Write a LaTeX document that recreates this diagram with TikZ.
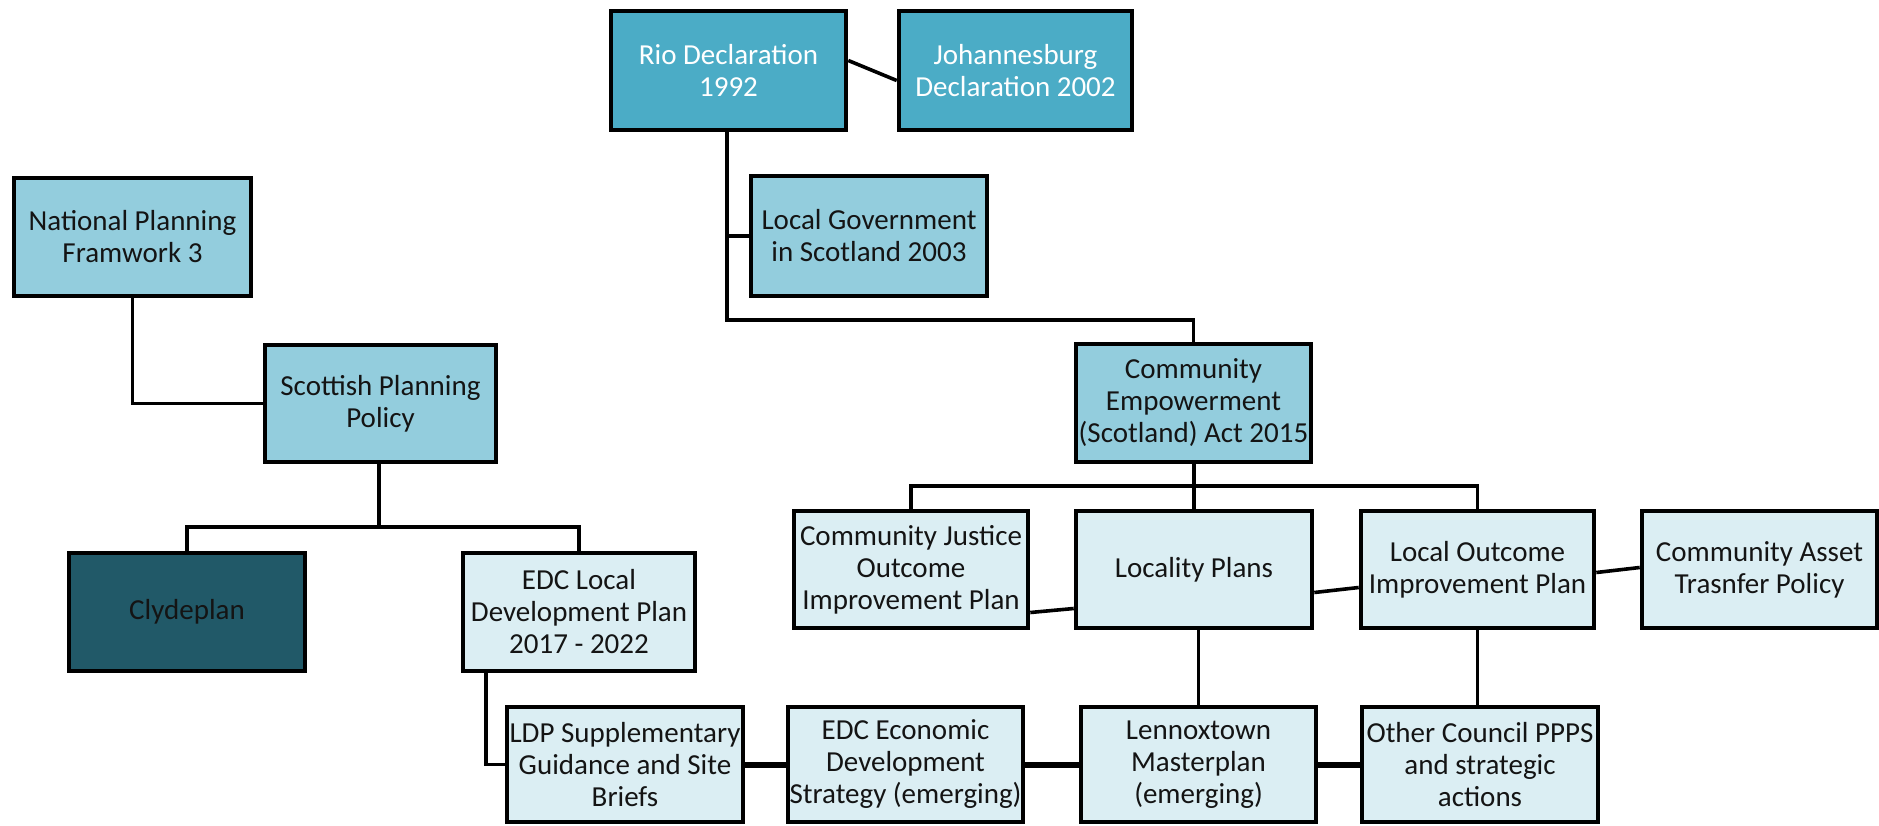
\documentclass[tikz,border=0pt]{standalone}
\usepackage{fontspec}
\setmainfont{Carlito}
\definecolor{darkc}{HTML}{4BACC6}
\definecolor{midc}{HTML}{93CDDD}
\definecolor{lightc}{HTML}{DBEEF3}
\definecolor{deepc}{HTML}{215968}
\definecolor{txt}{HTML}{141414}
\begin{document}
\begin{tikzpicture}[x=0.5pt,y=-0.5pt,
  box/.style={draw=black,line width=2.3pt,inner sep=0pt,align=center,
    font=\fontsize{14.5pt}{16pt}\selectfont,text=txt},
  topbox/.style={box,fill=darkc,text=white},
  midbox/.style={box,fill=midc},
  lightbox/.style={box,fill=lightc},
  deepbox/.style={box,fill=deepc},
  conn/.style={draw=black,line width=1.8pt},
  thick conn/.style={draw=black,line width=3pt}]
\useasboundingbox (0,0) rectangle (1879,825);
\fill[white] (0,0) rectangle (1879,825);
% boxes
\node[topbox,minimum width=117.5pt,minimum height=59.5pt] (rio) at (728.5,70.5) {Rio Declaration\\1992};
\node[topbox,minimum width=116.5pt,minimum height=59.5pt] (joh) at (1015.5,70.5) {Johannesburg\\Declaration 2002};
\node[midbox,minimum width=118.5pt,minimum height=59pt] (nat) at (132.5,237) {National Planning\\Framwork 3};
\node[midbox,minimum width=118pt,minimum height=60pt] (lg) at (869,236) {Local Government\\in Scotland 2003};
\node[midbox,minimum width=115.5pt,minimum height=58.5pt] (spp) at (380.5,403.5) {Scottish Planning\\Policy};
\node[midbox,minimum width=117.5pt,minimum height=59pt] (ce) at (1193.5,403) {Community\\Empowerment\\(Scotland) Act 2015};
\node[deepbox,minimum width=118pt,minimum height=59pt] (cly) at (187,612) {Clydeplan};
\node[lightbox,minimum width=116pt,minimum height=59pt] (ldp) at (579,612) {EDC Local\\Development Plan\\2017 - 2022};
\node[lightbox,minimum width=117pt,minimum height=58.5pt] (cj) at (911,569.5) {Community Justice\\Outcome\\Improvement Plan};
\node[lightbox,minimum width=118pt,minimum height=58.5pt] (loc) at (1194,569.5) {Locality Plans};
\node[lightbox,minimum width=116.5pt,minimum height=58.5pt] (lo) at (1477.5,569.5) {Local Outcome\\Improvement Plan};
\node[lightbox,minimum width=117.5pt,minimum height=58.5pt] (ca) at (1759.5,569.5) {Community Asset\\Trasnfer Policy};
\node[lightbox,minimum width=118pt,minimum height=57.5pt] (sup) at (625,764.5) {LDP Supplementary\\Guidance and Site\\Briefs};
\node[lightbox,minimum width=117.5pt,minimum height=57.5pt] (eco) at (905.5,764.5) {EDC Economic\\Development\\Strategy (emerging)};
\node[lightbox,minimum width=117.5pt,minimum height=57.5pt] (len) at (1198.5,764.5) {Lennoxtown\\Masterplan\\(emerging)};
\node[lightbox,minimum width=118pt,minimum height=57.5pt] (oth) at (1480,764.5) {Other Council PPPS\\and strategic\\actions};
% junction coordinates
\coordinate (rioj) at (727,320);
\coordinate (spj) at (379,527);
\coordinate (cej) at (1194,486);
% connectors
\draw[conn] ([yshift=5pt]rio.east) -- ([yshift=-5pt]joh.west);
\draw[conn] (rio.south -| rioj) -- (rioj) -| (ce.north);
\draw[conn] (rio.south -| rioj) |- (lg.west);
\draw[conn] (nat.south) |- (spp.west);
\draw[conn] (spp.south -| spj) -- (spj);
\draw[conn] (cly.north) |- (spj) -| (ldp.north);
\draw[conn] ([xshift=-46.5pt]ldp.south) |- (sup.west);
\draw[thick conn] (sup.east) -- (eco.west);
\draw[thick conn] (eco.east) -- (len.west);
\draw[thick conn] (len.east) -- (oth.west);
\draw[conn] (ce.south -| cej) -- (cej);
\draw[conn] (cj.north) |- (cej) -| (lo.north);
\draw[conn] (cej) -- (cej |- loc.north);
\draw[conn] ([yshift=-21.5pt]cj.east) -- ([yshift=-19.5pt]loc.west);
\draw[conn] ([yshift=-11.5pt]loc.east) -- ([yshift=-9pt]lo.west);
\draw[conn] ([yshift=-1.5pt]lo.east) -- ([yshift=1pt]ca.west);
\draw[conn] (len.north) -- (len.north |- loc.south);
\draw[conn] (lo.south) -- (lo.south |- oth.north);
\end{tikzpicture}
\end{document}
